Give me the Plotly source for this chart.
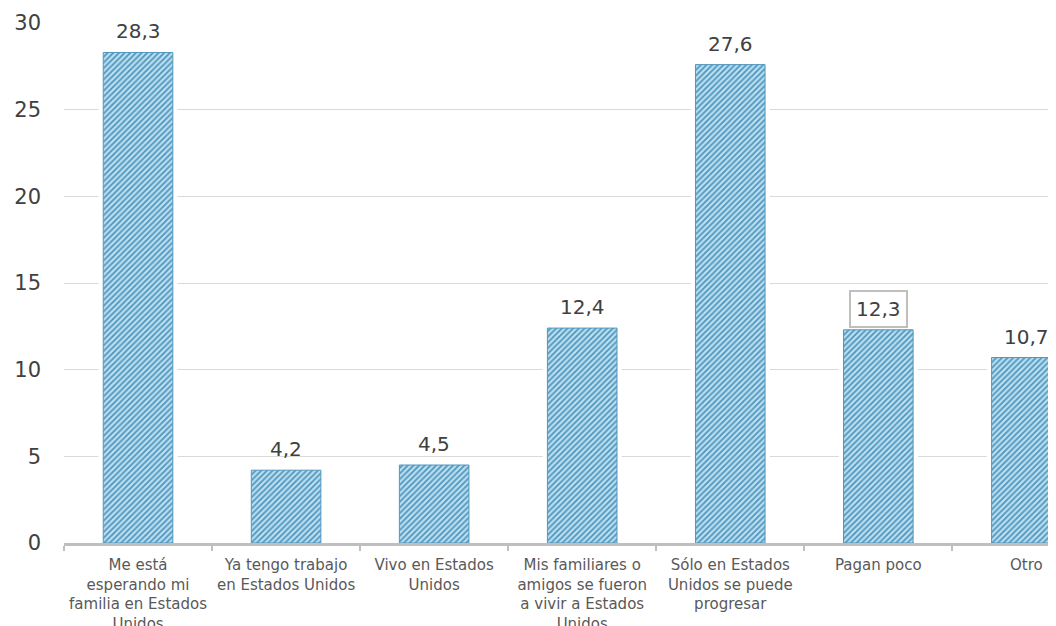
import plotly.graph_objects as go

categories = [
    "Me está<br>esperando mi<br>familia en Estados<br>Unidos",
    "Ya tengo trabajo<br>en Estados Unidos",
    "Vivo en Estados<br>Unidos",
    "Mis familiares o<br>amigos se fueron<br>a vivir a Estados<br>Unidos",
    "Sólo en Estados<br>Unidos se puede<br>progresar",
    "Pagan poco",
    "Otro",
]
values = [28.3, 4.2, 4.5, 12.4, 27.6, 12.3, 10.7]
boxed_label = [False, False, False, False, False, True, False]
y_ticks = [0, 5, 10, 15, 20, 25, 30]

def fmt(v):
    return f"{v:.1f}".replace(".", ",")

fig = go.Figure()

# white halo behind bars (interrupts gridlines like the original)
fig.add_trace(go.Bar(
    x=categories, y=values, width=0.535,
    marker=dict(color="white", line=dict(width=0)),
    hoverinfo="skip", showlegend=False,
))
fig.add_trace(go.Bar(
    x=categories, y=values, width=0.47,
    marker=dict(
        color="#8cc3de",
        line=dict(color="#5197bd", width=1),
        pattern=dict(shape="/", bgcolor="#b9def0", fgcolor="#4a92ba",
                     size=4, solidity=0.4, fillmode="replace"),
    ),
    showlegend=False,
))

annotations = []
for c, v, b in zip(categories, values, boxed_label):
    annotations.append(dict(
        x=c, y=v, xref="x", yref="y", text=fmt(v), showarrow=False,
        yanchor="middle", yshift=21,
        font=dict(family="DejaVu Sans", size=20, color="#404040"),
        bordercolor="#bfbfbf" if b else "rgba(0,0,0,0)",
        borderwidth=2 if b else 0, borderpad=5,
    ))

fig.update_layout(
    width=1048, height=618,
    margin=dict(l=56, r=0, t=15, b=83),
    paper_bgcolor="white", plot_bgcolor="white",
    barmode="overlay",
    annotations=annotations,
    xaxis=dict(
        type="category", range=[-0.5, 6.2], automargin=False,
        showline=True, linecolor="#bfbfbf", linewidth=3,
        ticks="outside", tickson="boundaries", ticklen=5, tickwidth=2,
        tickcolor="#bfbfbf", showgrid=False, ticklabelstandoff=6,
        tickangle=0,
        tickfont=dict(family="DejaVu Sans", size=15, color="#595959"),
    ),
    yaxis=dict(
        range=[0, 30], tickvals=y_ticks, automargin=False,
        showgrid=True, gridcolor="#d9d9d9", gridwidth=1,
        zeroline=False, showline=False, ticks="",
        ticklabelstandoff=22,
        tickfont=dict(family="DejaVu Sans", size=21, color="#404040"),
    ),
)

fig.write_html("out.html")
